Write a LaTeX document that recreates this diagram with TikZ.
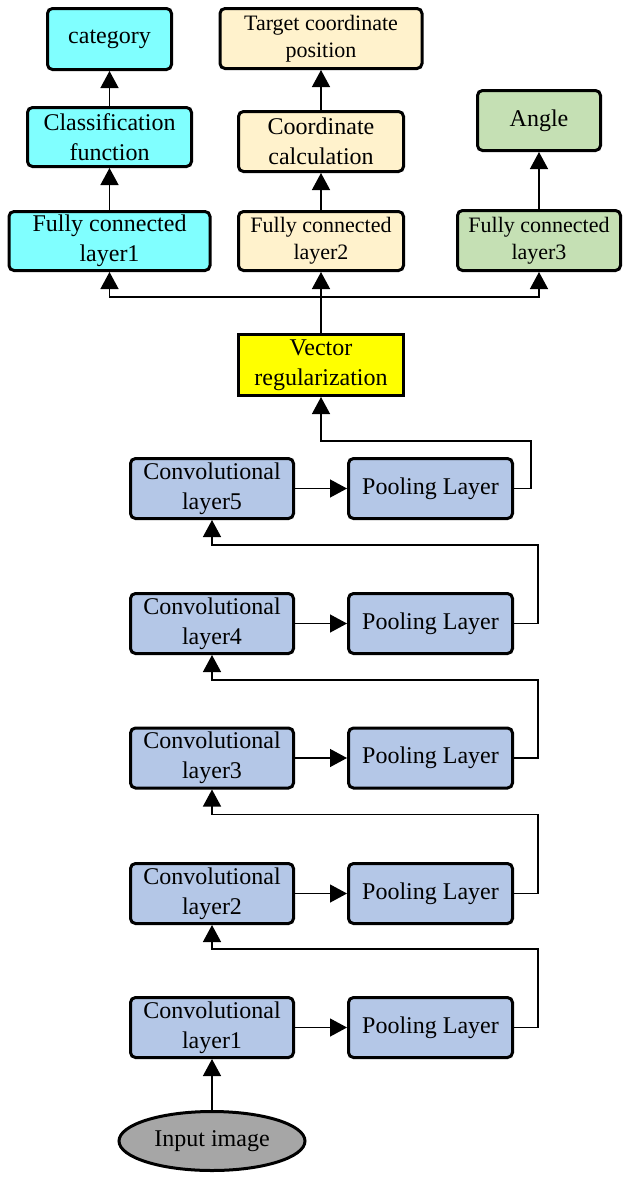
\documentclass[tikz,border=0pt]{standalone}
\usepackage{fontspec}
\setmainfont{Liberation Serif}
\usepackage{tikz}
\usetikzlibrary{shapes.geometric, arrows.meta, positioning, calc}
\definecolor{cyanBoxBg}{RGB}{128, 255, 255}
\definecolor{beigeBoxBg}{RGB}{255, 242, 204}
\definecolor{greenBoxBg}{RGB}{197, 224, 180}
\definecolor{convBoxBg}{RGB}{180, 199, 231}
\definecolor{vecBoxBg}{RGB}{255, 255, 0}
\definecolor{inputBg}{RGB}{166, 166, 166}
\newcommand{\bigText}{\fontsize{24}{30}\selectfont}
\newcommand{\smallText}{\fontsize{22}{27}\selectfont}
\tikzstyle{arrow} = [line width=1.3pt,-{Triangle[length=17pt,width=18pt]}]
\tikzstyle{line} = [line width=1.3pt]
\tikzstyle{basic} = [rectangle, rounded corners=5pt, inner sep=0pt, align=center, draw=black, line width=3pt, text=black, font=\bigText]
\tikzstyle{cyanstyle} = [fill=cyanBoxBg]
\tikzstyle{beigestyle} = [fill=beigeBoxBg]
\tikzstyle{greenstyle} = [fill=greenBoxBg]
\tikzstyle{convstyle} = [fill=convBoxBg, minimum height=60pt]

\begin{document}
\begin{tikzpicture}[x=1pt, y=-1pt]
\useasboundingbox (0,0) rectangle (630,1181);

% output heads
\node (category) [basic, cyanstyle, minimum width=124pt, minimum height=61pt] at (109.5,39) {category};
\node (classif) [basic, cyanstyle, minimum width=164pt, minimum height=59pt] at (109.5,137) {Classification\\function};
\node (fc1) [basic, cyanstyle, minimum width=201pt, minimum height=59pt] at (109.5,241) {Fully connected\\layer1};

\node (target) [basic, beigestyle, font=\smallText, minimum width=202pt, minimum height=60pt] at (321,38.5) {Target coordinate\\position};
\node (coordcalc) [basic, beigestyle, minimum width=165pt, minimum height=60pt] at (321,141.5) {Coordinate\\calculation};
\node (fc2) [basic, beigestyle, font=\smallText, minimum width=165pt, minimum height=59pt] at (321,241) {Fully connected\\layer2};

\node (angle) [basic, greenstyle, minimum width=123pt, minimum height=60pt] at (539,120.5) {Angle};
\node (fc3) [basic, greenstyle, font=\smallText, minimum width=163pt, minimum height=60pt] at (539,240.5) {Fully connected\\layer3};

\node (vecreg) [basic, rounded corners=0pt, fill=vecBoxBg, minimum width=165pt, minimum height=61pt] at (321,365) {Vector\\regularization};

% convolution and pooling stages
\node (conv5) [basic, convstyle, minimum width=163pt] at (212,488.5) {Convolutional\\layer5};
\node (pool5) [basic, convstyle, minimum width=164pt] at (430.5,488.5) {Pooling Layer};
\node (conv4) [basic, convstyle, minimum width=163pt] at (212,623.5) {Convolutional\\layer4};
\node (pool4) [basic, convstyle, minimum width=164pt] at (430.5,623.5) {Pooling Layer};
\node (conv3) [basic, convstyle, minimum width=163pt] at (212,758) {Convolutional\\layer3};
\node (pool3) [basic, convstyle, minimum width=164pt] at (430.5,758) {Pooling Layer};
\node (conv2) [basic, convstyle, minimum width=163pt] at (212,893.5) {Convolutional\\layer2};
\node (pool2) [basic, convstyle, minimum width=164pt] at (430.5,893.5) {Pooling Layer};
\node (conv1) [basic, convstyle, minimum width=163pt] at (212,1027.5) {Convolutional\\layer1};
\node (pool1) [basic, convstyle, minimum width=164pt] at (430.5,1027.5) {Pooling Layer};

\node (input) [ellipse, draw=black, line width=3pt, fill=inputBg, inner sep=0pt, minimum width=186pt, minimum height=59pt, font=\bigText] at (212,1141) {Input image};

\draw [arrow] (input.north) -- (conv1.south);
\draw [arrow] (conv1.east) -- (pool1.west);
\draw [arrow] (conv2.east) -- (pool2.west);
\draw [arrow] (conv3.east) -- (pool3.west);
\draw [arrow] (conv4.east) -- (pool4.west);
\draw [arrow] (conv5.east) -- (pool5.west);

\draw [arrow] (pool1.east) -- ++(24,0) |- ($(conv2.south)+(0,24)$) -- (conv2.south);
\draw [arrow] (pool2.east) -- ++(24,0) |- ($(conv3.south)+(0,25)$) -- (conv3.south);
\draw [arrow] (pool3.east) -- ++(24,0) |- ($(conv4.south)+(0,25)$) -- (conv4.south);
\draw [arrow] (pool4.east) -- ++(24,0) |- ($(conv5.south)+(0,25)$) -- (conv5.south);
\draw [arrow] (pool5.east) -- ++(17,0) |- ($(vecreg.south)+(0,44)$) -- (vecreg.south);

\coordinate (split) at (321,297);
\draw [line] (vecreg.north) -- (split);
\draw [arrow] (split) -- (fc2.south);
\draw [arrow] (split) -| (fc1.south);
\draw [arrow] (split) -| (fc3.south);

\draw [arrow] (fc1.north) -- (classif.south);
\draw [arrow] (classif.north) -- (category.south);
\draw [arrow] (fc2.north) -- (coordcalc.south);
\draw [arrow] (coordcalc.north) -- (target.south);
\draw [arrow] (fc3.north) -- (angle.south);

\end{tikzpicture}
\end{document}
